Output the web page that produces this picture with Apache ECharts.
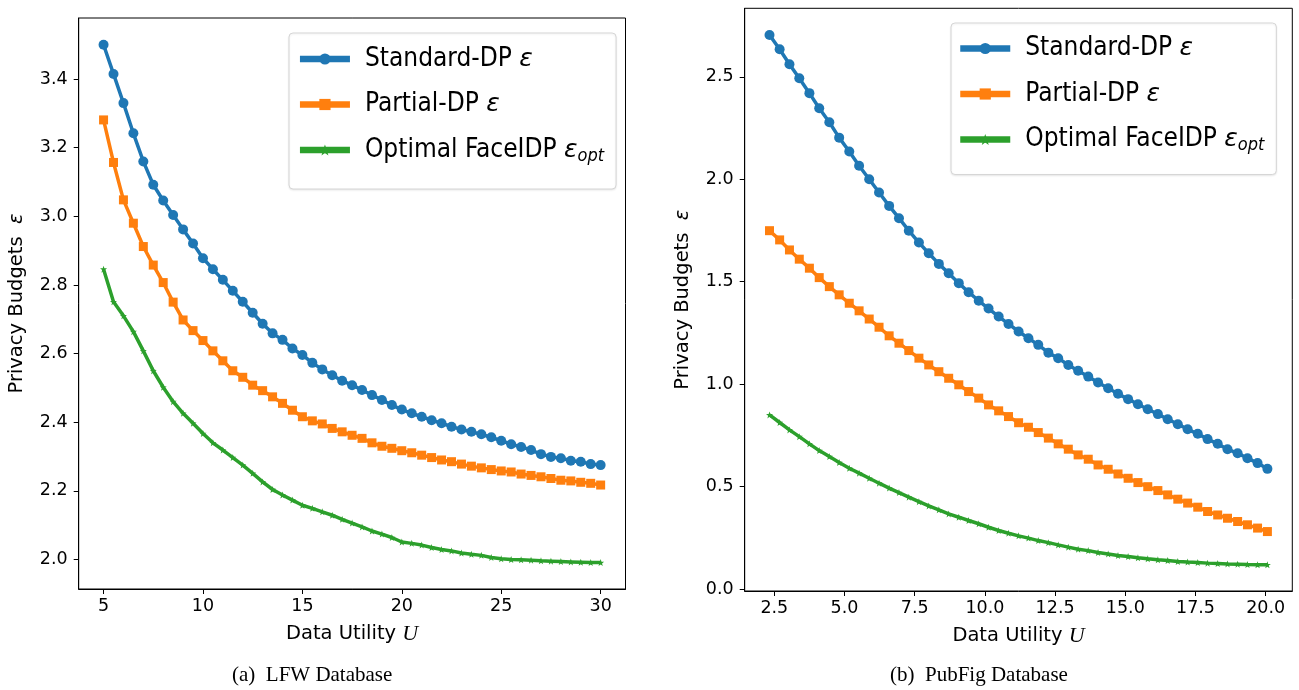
<!DOCTYPE html>
<html>
<head>
<meta charset="utf-8">
<title>Privacy budgets vs data utility</title>
<script src="https://cdn.jsdelivr.net/npm/echarts@6.0.0/dist/echarts.min.js"></script>
<style>
  html, body { margin: 0; padding: 0; background: #fff; }
  #chart { width: 1299px; height: 690px; }
</style>
</head>
<body>
<div id="chart"></div>
<script>
// ---- data ----
const names = ['Standard-DP', 'Partial-DP', 'Optimal FaceIDP'];

// (a) LFW
const lfwX = [5, 5.5, 6, 6.5, 7, 7.5, 8, 8.5, 9, 9.5,
  10, 10.5, 11, 11.5, 12, 12.5, 13, 13.5, 14, 14.5,
  15, 15.5, 16, 16.5, 17, 17.5, 18, 18.5, 19, 19.5,
  20, 20.5, 21, 21.5, 22, 22.5, 23, 23.5, 24, 24.5,
  25, 25.5, 26, 26.5, 27, 27.5, 28, 28.5, 29, 29.5, 30];
const lfwStandard = [3.500, 3.415, 3.330, 3.242, 3.160, 3.092, 3.046, 3.004, 2.962, 2.921,
  2.878, 2.846, 2.815, 2.783, 2.751, 2.719, 2.687, 2.659, 2.640, 2.615,
  2.596, 2.573, 2.554, 2.537, 2.521, 2.508, 2.494, 2.479, 2.465, 2.450,
  2.437, 2.426, 2.416, 2.406, 2.397, 2.387, 2.379, 2.372, 2.365, 2.356,
  2.346, 2.336, 2.328, 2.319, 2.307, 2.299, 2.295, 2.288, 2.285, 2.278, 2.275];
const lfwPartial = [3.281, 3.157, 3.048, 2.980, 2.912, 2.858, 2.807, 2.750, 2.698, 2.667,
  2.638, 2.608, 2.579, 2.550, 2.531, 2.508, 2.492, 2.474, 2.455, 2.435,
  2.416, 2.404, 2.395, 2.382, 2.372, 2.362, 2.353, 2.340, 2.330, 2.324,
  2.317, 2.311, 2.304, 2.297, 2.290, 2.285, 2.278, 2.272, 2.267, 2.262,
  2.258, 2.255, 2.249, 2.245, 2.241, 2.236, 2.231, 2.229, 2.225, 2.222, 2.217];
const lfwOptimal = [2.846, 2.751, 2.710, 2.664, 2.608, 2.550, 2.502, 2.460, 2.426, 2.397,
  2.367, 2.340, 2.319, 2.297, 2.275, 2.251, 2.226, 2.204, 2.188, 2.173,
  2.158, 2.149, 2.139, 2.129, 2.117, 2.106, 2.095, 2.083, 2.074, 2.064,
  2.051, 2.047, 2.042, 2.035, 2.029, 2.025, 2.019, 2.015, 2.012, 2.006,
  2.002, 2.000, 1.999, 1.998, 1.996, 1.995, 1.994, 1.993, 1.992, 1.991, 1.991];
const lfwXTicks = [5, 10, 15, 20, 25, 30];
const lfwYTicks = [2.0, 2.2, 2.4, 2.6, 2.8, 3.0, 3.2, 3.4];

// (b) PubFig
const pubX = [2.33, 2.69, 3.04, 3.39, 3.75, 4.10, 4.46, 4.81, 5.17, 5.52,
  5.88, 6.23, 6.59, 6.94, 7.29, 7.65, 8.00, 8.36, 8.71, 9.07,
  9.42, 9.78, 10.13, 10.49, 10.84, 11.20, 11.55, 11.90, 12.26, 12.61,
  12.97, 13.32, 13.68, 14.03, 14.39, 14.74, 15.10, 15.45, 15.80, 16.16,
  16.51, 16.87, 17.22, 17.58, 17.93, 18.29, 18.64, 19.00, 19.35, 19.71, 20.06];
const pubStandard = [2.704, 2.634, 2.561, 2.493, 2.420, 2.346, 2.278, 2.203, 2.135, 2.066,
  2.000, 1.935, 1.870, 1.810, 1.749, 1.691, 1.639, 1.587, 1.541, 1.493,
  1.449, 1.407, 1.369, 1.330, 1.294, 1.257, 1.224, 1.192, 1.154, 1.127,
  1.094, 1.066, 1.037, 1.008, 0.980, 0.953, 0.927, 0.902, 0.878, 0.854,
  0.829, 0.805, 0.780, 0.758, 0.732, 0.709, 0.683, 0.663, 0.639, 0.615, 0.587];
const pubPartial = [1.749, 1.704, 1.655, 1.610, 1.566, 1.520, 1.476, 1.436, 1.395, 1.358,
  1.318, 1.278, 1.236, 1.200, 1.164, 1.127, 1.094, 1.061, 1.029, 0.997,
  0.964, 0.932, 0.899, 0.870, 0.842, 0.812, 0.790, 0.764, 0.737, 0.709,
  0.683, 0.655, 0.634, 0.606, 0.585, 0.562, 0.541, 0.520, 0.500, 0.481,
  0.460, 0.439, 0.420, 0.400, 0.379, 0.362, 0.346, 0.330, 0.314, 0.298, 0.281];
const pubOptimal = [0.850, 0.813, 0.777, 0.744, 0.709, 0.676, 0.647, 0.618, 0.590, 0.566,
  0.541, 0.517, 0.493, 0.471, 0.449, 0.427, 0.406, 0.387, 0.367, 0.351,
  0.335, 0.319, 0.302, 0.286, 0.273, 0.260, 0.249, 0.237, 0.227, 0.216,
  0.205, 0.195, 0.188, 0.179, 0.172, 0.164, 0.159, 0.153, 0.148, 0.143,
  0.140, 0.135, 0.132, 0.130, 0.127, 0.125, 0.123, 0.122, 0.120, 0.119, 0.119];
const pubXTicks = [2.5, 5.0, 7.5, 10.0, 12.5, 15.0, 17.5, 20.0];
const pubYTicks = [0.0, 0.5, 1.0, 1.5, 2.0, 2.5];

const captions = ['(a)  LFW Database', '(b)  PubFig Database'];

// ---- styling ----
const FONT = 'DejaVu Sans';
const LEGEND_FONT = '"DejaVu Sans Condensed", "DejaVu Sans"';
const COLORS = ['#1f77b4', '#ff7f0e', '#2ca02c'];
const STAR = 'path://M0,-10L2.35,-3.24L9.51,-3.09L3.8,1.24L5.88,8.09L0,4L-5.88,8.09L-3.8,1.24L-9.51,-3.09L-2.35,-3.24Z';
const SYMBOLS = ['circle', 'rect', STAR];
const SYMBOL_SIZE = [10, 9, 7];

const pairs = (xs, ys) => xs.map((x, i) => [x, ys[i]]);

function xAxis(grid, min, max, ticks, digits) {
  return {
    type: 'value', gridIndex: grid, min, max,
    name: 'Data Utility {u|U}', nameLocation: 'middle', nameGap: 34,
    nameTextStyle: {
      fontFamily: FONT, fontSize: 19.5, color: '#000',
      rich: { u: { fontFamily: 'Liberation Serif', fontStyle: 'italic', fontSize: 22, color: '#000' } },
    },
    axisLine: { show: true, onZero: false, lineStyle: { color: '#000', width: 1 } },
    axisTick: { show: true, customValues: ticks, length: 5, lineStyle: { color: '#000' } },
    axisLabel: {
      customValues: ticks, margin: 8, color: '#000', fontFamily: FONT, fontSize: 17.5,
      formatter: (v) => v.toFixed(digits),
    },
    splitLine: { show: false },
  };
}

function yAxis(grid, min, max, ticks, gap) {
  return {
    type: 'value', gridIndex: grid, min, max,
    name: 'Privacy Budgets  {e|ε}', nameLocation: 'middle', nameGap: gap,
    nameTextStyle: {
      fontFamily: FONT, fontSize: 19.5, color: '#000',
      rich: { e: { fontFamily: FONT, fontStyle: 'italic', fontSize: 19.5, color: '#000' } },
    },
    axisLine: { show: true, onZero: false, lineStyle: { color: '#000', width: 1 } },
    axisTick: { show: true, customValues: ticks, length: 5, lineStyle: { color: '#000' } },
    axisLabel: {
      customValues: ticks, margin: 11, color: '#000', fontFamily: FONT, fontSize: 17.5,
      formatter: (v) => v.toFixed(1),
    },
    splitLine: { show: false },
  };
}

function legend(left, top, padding) {
  return {
    data: names, orient: 'vertical', left, top, padding,
    itemWidth: 50, itemHeight: 14, itemGap: 19.5,
    backgroundColor: '#fff', borderColor: '#d6d6d6', borderWidth: 1, borderRadius: 4,
    shadowColor: 'rgba(0,0,0,0.08)', shadowBlur: 2, shadowOffsetY: 1,
    lineStyle: { width: 6.5 },
    selectedMode: false,
    formatter: (name) => name === 'Optimal FaceIDP'
      ? '{a|Optimal FaceIDP }{e|ε}{s|opt}'
      : '{a|' + name + ' }{e|ε}',
    textStyle: {
      padding: [0, 0, 0, 10],
      rich: {
        a: { fontFamily: LEGEND_FONT, fontSize: 26, lineHeight: 30, color: '#000' },
        e: { fontFamily: FONT, fontStyle: 'italic', fontSize: 25, lineHeight: 30, color: '#000' },
        s: { fontFamily: LEGEND_FONT, fontStyle: 'italic', fontSize: 18, lineHeight: 18, verticalAlign: 'bottom', color: '#000' },
      },
    },
  };
}

function lineSeries(k, grid, xs, ys) {
  return {
    name: names[k], type: 'line', xAxisIndex: grid, yAxisIndex: grid,
    data: pairs(xs, ys),
    symbol: SYMBOLS[k], symbolSize: SYMBOL_SIZE[k], showAllSymbol: true,
    lineStyle: { color: COLORS[k], width: 3.5 },
    itemStyle: { color: COLORS[k], borderWidth: 0 },
    animation: false, z: 2 + k,
  };
}

const chart = echarts.init(document.getElementById('chart'));
chart.setOption({
  backgroundColor: '#fff',
  animation: false,
  grid: [
    { left: 78.7, top: 18, width: 546.8, height: 571, show: true, borderColor: '#000', borderWidth: 1, backgroundColor: '#fff' },
    { left: 744.7, top: 8.3, width: 547.6, height: 582.7, show: true, borderColor: '#000', borderWidth: 1, backgroundColor: '#fff' },
  ],
  xAxis: [
    xAxis(0, 3.75, 31.25, lfwXTicks, 0),
    xAxis(1, 1.446, 20.947, pubXTicks, 1),
  ],
  yAxis: [
    yAxis(0, 1.914, 3.578, lfwYTicks, 52),
    yAxis(1, -0.009, 2.834, pubYTicks, 52),
  ],
  legend: [
    legend(289, 33, [13, 12, 24, 7.7]),
    legend(951, 23, [12.5, 12, 20, 6]),
  ],
  series: [
    lineSeries(0, 0, lfwX, lfwStandard),
    lineSeries(1, 0, lfwX, lfwPartial),
    lineSeries(2, 0, lfwX, lfwOptimal),
    lineSeries(0, 1, pubX, pubStandard),
    lineSeries(1, 1, pubX, pubPartial),
    lineSeries(2, 1, pubX, pubOptimal),
  ],
  graphic: [
    { type: 'text', left: 232, top: 665, style: { text: captions[0], font: '21px "Liberation Serif"', fill: '#000' } },
    { type: 'text', left: 890, top: 665, style: { text: captions[1], font: '21px "Liberation Serif"', fill: '#000' } },
  ],
});
</script>
</body>
</html>
